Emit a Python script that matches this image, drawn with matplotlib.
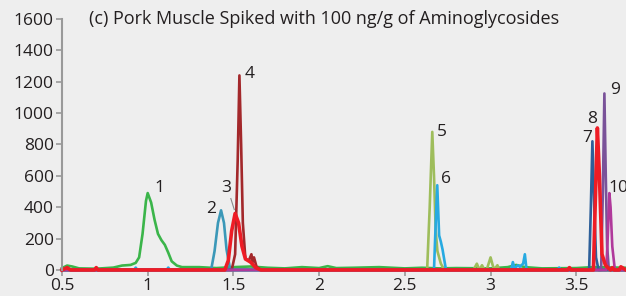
import matplotlib.pyplot as plt
import numpy as np

plt.rcParams['font.family'] = ['Open Sans', 'DejaVu Sans']

# retention time (min) / intensity
t_green = [0.5, 0.53, 0.56, 0.6, 0.7, 0.8, 0.85, 0.9, 0.93, 0.95, 0.97, 0.99, 1.0, 1.02, 1.04,
           1.06, 1.08, 1.1, 1.12, 1.14, 1.17, 1.2, 1.3, 1.4, 1.5, 1.6, 1.7, 1.8, 1.9, 2.0, 2.05,
           2.1, 2.2, 2.35, 2.5, 2.6, 2.7, 2.8, 3.0, 3.1, 3.15, 3.2, 3.3, 3.5, 3.6, 3.79]
y_green = [12, 28, 22, 10, 8, 15, 28, 32, 45, 80, 230, 440, 490, 430, 320,
           230, 190, 160, 110, 55, 28, 18, 18, 12, 18, 22, 14, 10, 18, 12, 24,
           12, 14, 18, 10, 14, 10, 12, 10, 18, 32, 18, 10, 12, 18, 14]

t_teal = [0.5, 1.37, 1.39, 1.41, 1.428, 1.445, 1.46, 1.48, 1.5, 3.79]
y_teal = [0, 0, 120, 300, 380, 300, 130, 10, 0, 0]

t_darkred = [0.5, 1.49, 1.51, 1.525, 1.535, 1.545, 1.555, 1.57, 1.59, 1.605, 1.612, 1.62, 1.635, 1.66, 3.79]
y_darkred = [0, 0, 100, 700, 1240, 800, 300, 70, 60, 100, 50, 80, 20, 0, 0]

t_red = [0.5, 0.53, 0.55, 0.69, 0.7, 0.71, 1.45, 1.47, 1.49, 1.51, 1.53, 1.55, 1.57, 1.6, 1.63, 1.66,
         3.45, 3.46, 3.47, 3.6, 3.61, 3.623, 3.635, 3.65, 3.67, 3.7, 3.71, 3.72, 3.75, 3.76, 3.79]
y_red = [0, 15, 0, 0, 15, 0, 0, 60, 250, 360, 300, 150, 70, 50, 15, 0,
         0, 15, 0, 0, 400, 905, 600, 100, 30, 0, 15, 0, 0, 20, 0]

t_olive = [0.5, 2.63, 2.645, 2.66, 2.67, 2.68, 2.69, 2.71, 2.73, 2.9, 2.92, 2.935, 2.95, 2.965,
           2.98, 3.0, 3.02, 3.04, 3.05, 3.79]
y_olive = [0, 0, 400, 880, 600, 250, 120, 40, 0, 0, 40, 0, 30, 0, 10, 80, 0, 30, 0, 0]

t_lblue = [0.5, 0.92, 0.93, 0.94, 1.11, 1.12, 1.13, 2.67, 2.68, 2.689, 2.70, 2.71, 2.72, 2.74,
           3.12, 3.13, 3.14, 3.16, 3.17, 3.19, 3.2, 3.21, 3.39, 3.4, 3.41, 3.79]
y_lblue = [0, 0, 15, 0, 0, 15, 0, 0, 300, 540, 220, 180, 130, 0,
           0, 50, 10, 30, 20, 40, 100, 0, 0, 15, 0, 0]

t_dblue = [0.5, 3.575, 3.585, 3.594, 3.605, 3.615, 3.63, 3.79]
y_dblue = [0, 0, 400, 820, 400, 80, 0, 0]

t_purple = [0.5, 3.645, 3.655, 3.664, 3.672, 3.68, 3.69, 3.79]
y_purple = [0, 0, 500, 1125, 600, 150, 0, 0]

t_magenta = [0.5, 3.675, 3.685, 3.693, 3.70, 3.71, 3.725, 3.79]
y_magenta = [0, 0, 250, 490, 400, 150, 0, 0]

peak_labels = ['1', '2', '3', '4', '5', '6', '7', '8', '9', '10']
label_pos = [(1.07, 520), (1.37, 390), (1.455, 520), (1.595, 1250), (2.715, 880),
             (2.74, 580), (3.565, 840), (3.595, 960), (3.725, 1150), (3.745, 520)]

fig = plt.figure(figsize=(6.26, 2.96), dpi=100, facecolor='#eeeeee')
ax = fig.add_axes([0.099, 0.088, 0.901, 0.848])
ax.set_facecolor('#eeeeee')

lw = 1.9
ax.plot(t_green, y_green, color='#3bb54a', lw=lw, clip_on=False)
ax.plot(t_olive, y_olive, color='#9ebd5b', lw=lw, clip_on=False)
ax.plot(t_lblue, y_lblue, color='#27aae1', lw=lw, clip_on=False)
ax.plot(t_teal, y_teal, color='#3b98b8', lw=lw, clip_on=False)
ax.plot(t_darkred, y_darkred, color='#a3282b', lw=lw, clip_on=False)
ax.plot(t_dblue, y_dblue, color='#2d5f99', lw=lw, clip_on=False)
ax.plot(t_purple, y_purple, color='#7a5299', lw=lw, clip_on=False)
ax.plot(t_magenta, y_magenta, color='#b0399b', lw=lw, clip_on=False)
ax.plot(t_red, y_red, color='#ee1c25', lw=2.6, clip_on=False)

for lab, (x, y) in zip(peak_labels, label_pos):
    ax.text(x, y, lab, fontsize=12.5, color='#231f20', ha='center', va='center')
ax.plot([1.485, 1.505], [455, 385], color='#888888', lw=0.8)

ax.text(0.655, 1600, '(c) Pork Muscle Spiked with 100 ng/g of Aminoglycosides',
        fontsize=13, color='#231f20', va='center')

ax.set_xlim(0.5, 3.79)
ax.set_ylim(0, 1600)
ax.set_xticks([0.5, 1, 1.5, 2, 2.5, 3, 3.5])
ax.set_xticklabels(['0.5', '1', '1.5', '2', '2.5', '3', '3.5'])
ax.set_yticks(range(0, 1601, 200))
for s in ['top', 'right', 'bottom']:
    ax.spines[s].set_visible(False)
ax.spines['left'].set_color('#999999')
ax.spines['left'].set_linewidth(1.5)
ax.tick_params(colors='#999999', labelcolor='#231f20', labelsize=12.5, length=4, width=1.2, pad=2)

fig.savefig('out.png', dpi=100, facecolor=fig.get_facecolor())
